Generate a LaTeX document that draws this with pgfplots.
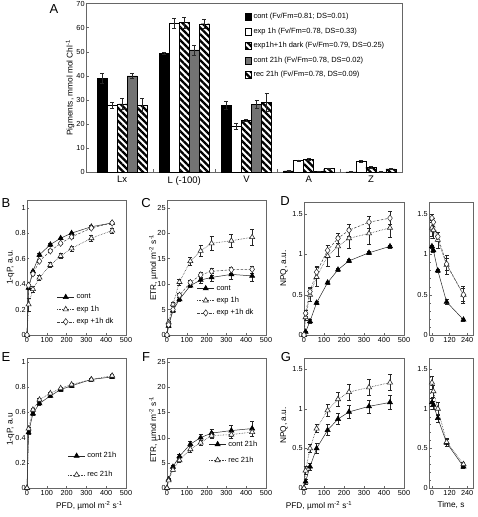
\documentclass[border=0pt]{standalone}
\usepackage{fontspec}
\setmainfont{Liberation Sans}
\usepackage{pgfplots}
\pgfplotsset{compat=1.18}
\usetikzlibrary{patterns.meta}

\pgfplotsset{
 panel/.style={scale only axis, anchor=north west, clip=false,
   axis line style={black!60}, tick align=inside, tick pos=left,
   major tick length=2.5pt, minor tick length=1.5pt, tick style={black!60},
   /pgf/number format/assume math mode=true,
   ticklabel style={font=\fontsize{7.3}{9}\selectfont},
   yticklabel style={inner sep=1.2pt},
   xticklabel style={inner sep=2pt},
   label style={font=\fontsize{8.3}{10}\selectfont},
   legend style={draw=none, fill=none, font=\fontsize{7.5}{9}\selectfont, inner sep=0pt, anchor=north west},
   legend cell align=left,
   error bars/error bar style={solid, black!85, line width=0.4pt},
   error bars/error mark options={solid, black!85, mark size=2pt, line width=0.4pt, rotate=90}},
 pfd/.style={panel, width=99pt, height=135pt, xmin=0, xmax=500, xtick={0,100,...,500}},
 tim/.style={panel, width=44pt, height=133pt, xmin=-20, xmax=280, xtick={0,120,240},
   ymin=0, ymax=1.65, ytick={0,0.5,1,1.5}, minor y tick num=4},
 contS/.style={black!85, solid, line width=0.5pt, mark=triangle*, mark size=3pt,
   mark options={solid, fill=black, draw=black}},
 expS/.style={black!75, densely dotted, line width=0.6pt, mark=triangle*, mark size=3pt,
   mark options={solid, fill=white, draw=black!85}},
 dkS/.style={black!75, dash pattern=on 2.5pt off 1.5pt, line width=0.5pt, mark=diamond*, mark size=3.2pt,
   mark options={solid, fill=white, draw=black!85}},
 eb/.style={error bars/.cd, y dir=both, y explicit},
 mybar/.style={ybar, bar width=10pt, bar shift=0pt, draw=black, line width=0.4pt,
   legend image code/.code={\draw[##1] (0pt,-3.5pt) rectangle (6pt,3.5pt);}},
}

\begin{document}
\begin{tikzpicture}[font=\fontsize{7.7}{9}\selectfont]
\useasboundingbox (0,0) rectangle (478pt,-517pt);

% ---------------- A ----------------
% groups at 0..4; bars at group -0.322, -0.161, 0, +0.161, +0.322
\begin{axis}[panel, at={(86pt,-3.5pt)}, width=316pt, height=168.5pt,
  xmin=-0.58, xmax=4.5, ymin=0, ymax=70, ytick={0,10,...,70},
  xtick={0,1,2,3,4}, xticklabels={Lx,L (-100),V,A,Z},
  major x tick style={draw=none}, minor xtick={0.5,1.5,2.5,3.5}, minor tick length=3pt,
  x tick label style={font=\fontsize{9.5}{11}\selectfont, yshift=-2pt},
  ylabel={Pigments, mmol mol Chl\textsuperscript{-1}},
  ylabel style={at={(axis description cs:-0.05,0.5)}, anchor=center},
  legend style={at={(axis description cs:0.503,0.955)}, row sep=3.6pt}]
\addplot[mybar, fill=black, eb] coordinates {
 (-0.322,39.0) +- (0,2.0) (0.678,49.4) +- (0,0.4) (1.678,27.8) +- (0,1.6) (2.678,0.5) +- (0,0.1) (3.678,0.1) +- (0,0.1)};
\addlegendentry{cont (Fv/Fm=0.81; DS=0.01)}
\addplot[mybar, fill=white, eb] coordinates {
 (-0.161,27.8) +- (0,1.1) (0.839,61.8) +- (0,2.0) (1.839,19.0) +- (0,1.3) (2.839,4.8) +- (0,0.3) (3.839,4.5) +- (0,0.3)};
\addlegendentry{exp 1h (Fv/Fm=0.78, DS=0.33)}
\addplot[mybar, pattern={Lines[angle=-45, distance=4.6pt, line width=2.3pt]}, eb] coordinates {
 (0,28.3) +- (0,2.4) (1,62.1) +- (0,2.2) (2,21.4) +- (0,0.4) (3,5.3) +- (0,0.6) (4,2.0) +- (0,0.3)};
\addlegendentry{exp1h+1h dark (Fv/Fm=0.79, DS=0.25)}
\addplot[mybar, fill=black!55, eb] coordinates {
 (0.161,39.9) +- (0,1.1) (1.161,50.7) +- (0,2.0) (2.161,28.2) +- (0,1.6) (3.161,0.4) +- (0,0.1) (4.161,0.1) +- (0,0.1)};
\addlegendentry{cont 21h (Fv/Fm=0.78, DS=0.02)}
\addplot[mybar, pattern={Lines[angle=-45, distance=4.6pt, line width=2.3pt]}, eb] coordinates {
 (0.322,27.8) +- (0,2.8) (1.322,61.6) +- (0,2.0) (2.322,28.9) +- (0,3.8) (3.322,1.5) +- (0,0.2) (4.322,1.3) +- (0,0.2)};
\addlegendentry{rec 21h (Fv/Fm=0.78, DS=0.09)}
\end{axis}

% ---------------- B ----------------
\begin{axis}[pfd, at={(27pt,-200pt)}, ymin=0, ymax=1.06, ytick={0,0.2,...,1},
  ylabel={1-qP, a.u.}, ylabel style={at={(axis description cs:-0.165,0.5)}, anchor=center},
  legend style={at={(axis description cs:0.3,0.32)}, row sep=1.5pt}]
\addplot[contS, eb] coordinates {(0,0) (8,0.37) +- (0,0.01) (30,0.50) +- (0,0.01) (63,0.63) +- (0,0.01) (118,0.71) +- (0,0.01) (170,0.76) +- (0,0.01) (225,0.80) +- (0,0.01) (325,0.85) +- (0,0.01) (430,0.88) +- (0,0.01)};
\addlegendentry{cont}
\addplot[expS, eb] coordinates {(0,0) (8,0.24) +- (0,0.05) (30,0.36) +- (0,0.02) (63,0.45) +- (0,0.02) (118,0.55) +- (0,0.02) (170,0.62) +- (0,0.02) (225,0.68) +- (0,0.02) (325,0.76) +- (0,0.02) (430,0.82) +- (0,0.02)};
\addlegendentry{exp 1h}
\addplot[dkS, eb] coordinates {(0,0) (8,0.39) +- (0,0.01) (30,0.48) +- (0,0.01) (63,0.58) +- (0,0.01) (118,0.66) +- (0,0.01) (170,0.72) +- (0,0.01) (225,0.77) +- (0,0.01) (325,0.84) +- (0,0.01) (430,0.88) +- (0,0.01)};
\addlegendentry{exp +1h dk}
\end{axis}

% ---------------- C ----------------
\begin{axis}[pfd, at={(167pt,-200pt)}, ymin=0, ymax=26.5, ytick={0,5,...,25},
  ylabel={ETR, µmol m\textsuperscript{-2} s\textsuperscript{-1}}, ylabel style={at={(axis description cs:-0.135,0.5)}, anchor=center},
  legend style={at={(axis description cs:0.3,0.385)}, row sep=1.5pt}]
\addplot[contS, eb] coordinates {(0,0) (8,1.8) +- (0,0.2) (30,4.8) +- (0,0.3) (63,7.0) +- (0,0.4) (118,9.7) +- (0,0.4) (170,10.8) +- (0,0.6) (225,11.3) +- (0,0.8) (325,11.9) +- (0,1.0) (430,11.6) +- (0,1.1)};
\addlegendentry{cont}
\addplot[expS, eb] coordinates {(0,0) (8,2.5) +- (0,0.3) (30,6.0) +- (0,0.4) (63,10.4) +- (0,0.6) (118,14.5) +- (0,0.8) (170,16.5) +- (0,1.1) (225,18.0) +- (0,1.3) (325,18.5) +- (0,1.3) (430,19.2) +- (0,1.5)};
\addlegendentry{exp 1h}
\addplot[dkS, eb] coordinates {(0,0) (8,2.0) +- (0,0.2) (30,5.0) +- (0,0.3) (63,7.8) +- (0,0.4) (118,10.3) +- (0,0.5) (170,11.8) +- (0,0.6) (225,12.5) +- (0,0.7) (325,12.8) +- (0,0.6) (430,12.9) +- (0,0.7)};
\addlegendentry{exp +1h dk}
\end{axis}

% ---------------- D ----------------
\begin{axis}[pfd, at={(304pt,-202pt)}, width=100pt, height=133pt, ymin=0, ymax=1.65, ytick={0,0.5,1,1.5},
  ylabel={NPQ, a.u.}, ylabel style={at={(axis description cs:-0.2,0.5)}, anchor=center}]
\addplot[contS, eb] coordinates {(0,0) (8,0.04) +- (0,0.01) (30,0.17) +- (0,0.02) (63,0.40) +- (0,0.02) (118,0.65) +- (0,0.02) (170,0.81) +- (0,0.02) (225,0.92) +- (0,0.02) (325,1.02) +- (0,0.02) (430,1.10) +- (0,0.02)};
\addplot[expS, eb] coordinates {(0,0) (8,0.22) +- (0,0.04) (30,0.50) +- (0,0.08) (63,0.72) +- (0,0.12) (118,0.98) +- (0,0.13) (170,1.10) +- (0,0.12) (225,1.20) +- (0,0.12) (325,1.26) +- (0,0.13) (430,1.33) +- (0,0.12)};
\addplot[dkS, eb] coordinates {(0,0) (8,0.27) +- (0,0.04) (30,0.54) +- (0,0.05) (63,0.78) +- (0,0.07) (118,1.05) +- (0,0.07) (170,1.20) +- (0,0.06) (225,1.30) +- (0,0.07) (325,1.40) +- (0,0.07) (430,1.45) +- (0,0.08)};
\end{axis}

\begin{axis}[tim, at={(429pt,-202pt)}]
\addplot[contS, eb] coordinates {(0,1.10) +- (0,0.02) (10,1.05) +- (0,0.02) (40,0.80) +- (0,0.02) (100,0.41) +- (0,0.03) (215,0.19) +- (0,0.02)};
\addplot[expS, eb] coordinates {(0,1.33) +- (0,0.1) (10,1.30) +- (0,0.1) (40,1.18) +- (0,0.1) (100,0.87) +- (0,0.12) (215,0.50) +- (0,0.1)};
\addplot[dkS, eb] coordinates {(0,1.45) +- (0,0.05) (10,1.40) +- (0,0.05) (40,1.22) +- (0,0.06) (100,0.88) +- (0,0.07) (215,0.50) +- (0,0.08)};
\end{axis}

% ---------------- E ----------------
\begin{axis}[pfd, at={(27pt,-358pt)}, height=130pt, ymin=0, ymax=1.03, ytick={0,0.2,...,1},
  ylabel={1-qP, a.u}, ylabel style={at={(axis description cs:-0.165,0.45)}, anchor=center},
  xlabel={PFD, µmol m\textsuperscript{-2} s\textsuperscript{-1}},
  xlabel style={at={(ticklabel cs:0.63)}, anchor=near ticklabel, yshift=-1pt},
  legend style={at={(axis description cs:0.41,0.29)}, row sep=8pt}]
\addplot[contS, eb] coordinates {(0,0) (8,0.44) +- (0,0.01) (30,0.59) +- (0,0.01) (63,0.67) +- (0,0.01) (118,0.73) +- (0,0.01) (170,0.78) +- (0,0.01) (225,0.81) +- (0,0.01) (325,0.86) +- (0,0.01) (430,0.88) +- (0,0.01)};
\addlegendentry{cont 21h}
\addplot[expS, eb] coordinates {(0,0) (8,0.47) +- (0,0.01) (30,0.62) +- (0,0.01) (63,0.70) +- (0,0.01) (118,0.75) +- (0,0.01) (170,0.79) +- (0,0.01) (225,0.82) +- (0,0.01) (325,0.86) +- (0,0.01) (430,0.89) +- (0,0.01)};
\addlegendentry{rec 21h}
\end{axis}

% ---------------- F ----------------
\begin{axis}[pfd, at={(167pt,-358pt)}, height=130pt, ymin=0, ymax=25.8, ytick={0,5,...,25},
  ylabel={ETR, µmol m\textsuperscript{-2} s\textsuperscript{-1}}, ylabel style={at={(axis description cs:-0.135,0.45)}, anchor=center},
  legend style={at={(axis description cs:0.42,0.38)}, row sep=5pt}]
\addplot[contS, eb] coordinates {(0,0) (8,1.7) +- (0,0.2) (30,4.2) +- (0,0.3) (63,6.3) +- (0,0.4) (118,8.7) +- (0,0.5) (170,10.0) +- (0,0.6) (225,10.9) +- (0,0.8) (325,11.4) +- (0,1.1) (430,11.8) +- (0,1.5)};
\addlegendentry{cont 21h}
\addplot[expS, eb] coordinates {(0,0) (8,1.5) +- (0,0.2) (30,3.6) +- (0,0.3) (63,5.5) +- (0,0.4) (118,7.7) +- (0,0.5) (170,9.0) +- (0,0.5) (225,10.4) +- (0,0.6) (325,10.6) +- (0,0.7) (430,11.1) +- (0,0.8)};
\addlegendentry{rec 21h}
\end{axis}

% ---------------- G ----------------
\begin{axis}[pfd, at={(304pt,-358pt)}, width=100pt, height=130pt, ymin=0, ymax=1.64, ytick={0,0.5,1,1.5},
  ylabel={NPQ, a.u.}, ylabel style={at={(axis description cs:-0.2,0.48)}, anchor=center},
  xlabel={PFD, µmol m\textsuperscript{-2} s\textsuperscript{-1}},
  xlabel style={at={(ticklabel cs:0.15)}, anchor=near ticklabel, yshift=-1pt}]
\addplot[contS, eb] coordinates {(0,0) (8,0.08) +- (0,0.03) (30,0.27) +- (0,0.04) (63,0.50) +- (0,0.06) (118,0.73) +- (0,0.07) (170,0.87) +- (0,0.07) (225,0.96) +- (0,0.08) (325,1.03) +- (0,0.08) (430,1.08) +- (0,0.09)};
\addplot[expS, eb] coordinates {(0,0) (8,0.22) +- (0,0.05) (30,0.50) +- (0,0.05) (63,0.75) +- (0,0.05) (118,0.98) +- (0,0.08) (170,1.12) +- (0,0.09) (225,1.21) +- (0,0.1) (325,1.27) +- (0,0.1) (430,1.33) +- (0,0.1)};
\end{axis}

\begin{axis}[tim, at={(429pt,-358pt)}, height=130pt, ymax=1.64, xlabel={Time, s}, xlabel style={yshift=-1pt}]
\addplot[contS, eb] coordinates {(0,1.08) +- (0,0.05) (10,1.05) +- (0,0.05) (40,0.88) +- (0,0.05) (100,0.57) +- (0,0.04) (215,0.27) +- (0,0.02)};
\addplot[expS, eb] coordinates {(0,1.33) +- (0,0.08) (10,1.22) +- (0,0.08) (40,1.00) +- (0,0.08) (100,0.58) +- (0,0.05) (215,0.30) +- (0,0.03)};
\end{axis}

% panel letters
\begin{scope}[every node/.style={font=\fontsize{13}{14}\selectfont}]
\node at (54pt,-9pt) {A};
\node at (6pt,-203pt) {B};
\node at (146pt,-203pt) {C};
\node at (285pt,-201pt) {D};
\node at (6pt,-357pt) {E};
\node at (146pt,-357pt) {F};
\node at (286pt,-357pt) {G};
\end{scope}
\end{tikzpicture}
\end{document}
